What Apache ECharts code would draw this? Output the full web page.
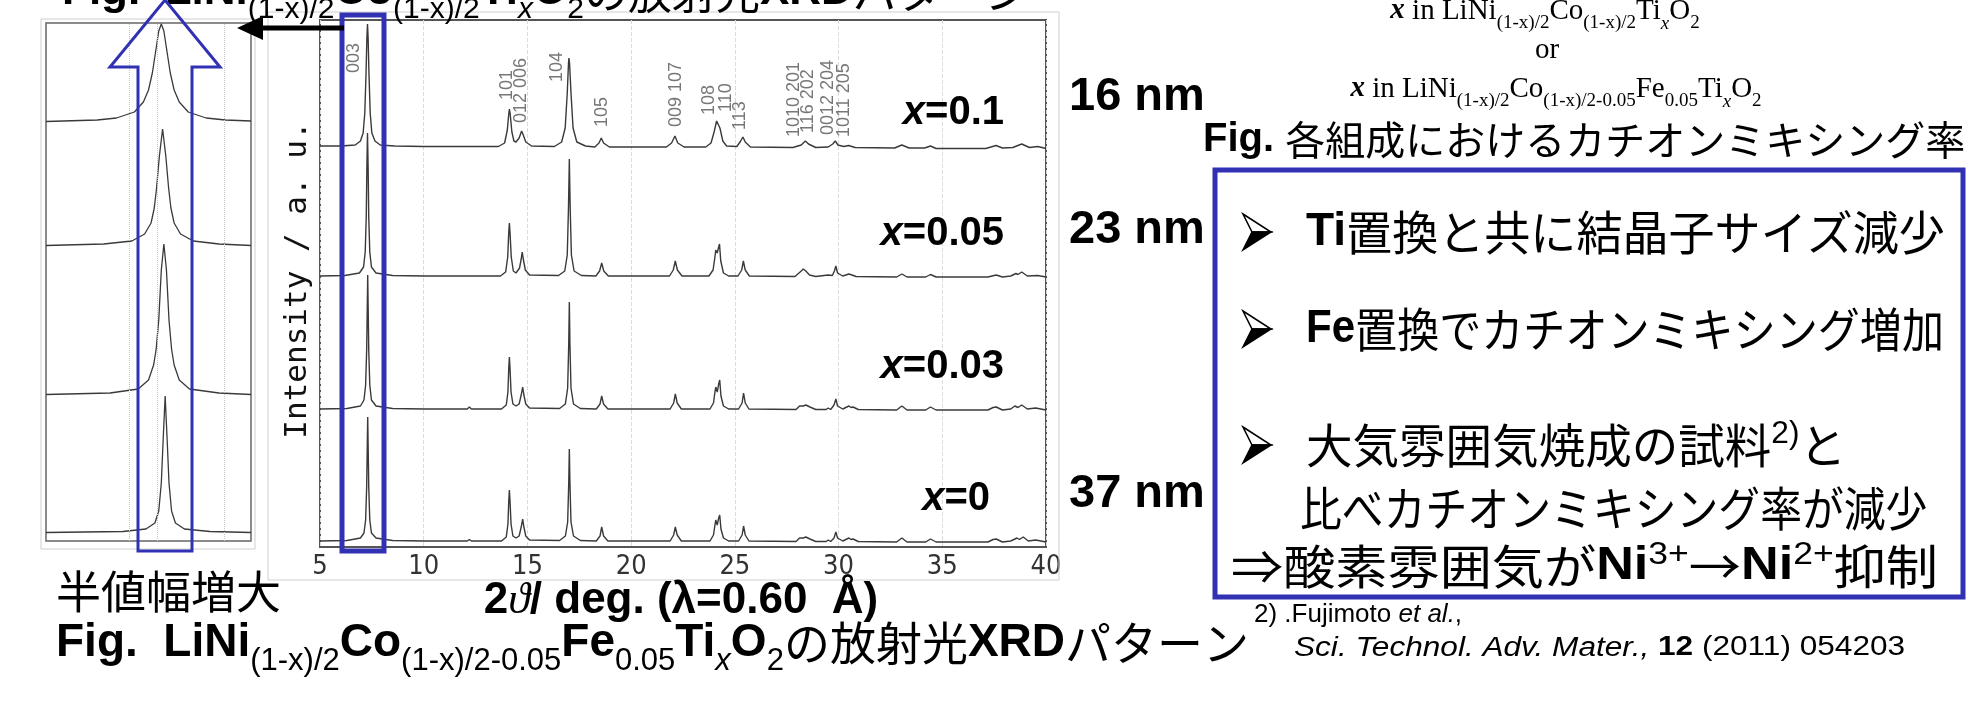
<!DOCTYPE html>
<html>
<head>
<meta charset="utf-8">
<title>LiNiCoFeTiO2 XRD</title>
<script src="https://cdn.jsdelivr.net/npm/echarts@6/dist/echarts.min.js"></script>
<style>
  html, body { margin: 0; padding: 0; background: #fff; }
  #chart { width: 1969px; height: 719px; }
</style>
</head>
<body>
<div id="chart"></div>
<script>
// 2theta / intensity pairs, intensity above each trace's own baseline
const xrd0 = [
  [5.0,1],[6.3,1.5],[6.95,4],[7.12,9],[7.2,22],[7.25,55],[7.28,98],[7.3,125],[7.32,98],[7.35,55],[7.4,22],[7.48,9],[7.7,4],[8.5,1.5],[10,1],[12.1,1],[12.2,2.5],[12.3,1],
  [13.75,1],[13.98,5],[14.06,18],[14.1,41],[14.13,52],[14.16,41],[14.21,18],[14.3,6],[14.45,4],[14.6,6],[14.7,15],[14.77,23],[14.83,15],[14.92,6],[15.1,2],
  [16.55,1.5],[16.83,6],[16.94,20],[16.99,58],[17.02,93],[17.05,58],[17.1,20],[17.22,6],[17.55,1.5],
  [18.32,1],[18.5,6],[18.58,15],[18.67,6],[18.88,1],
  [21.88,1],[22.05,7],[22.13,15],[22.22,7],[22.42,1],
  [23.8,1],[23.97,7],[24.04,17],[24.08,22],[24.15,17],[24.22,24],[24.27,27],[24.33,13],[24.45,4],[24.7,1],[25.18,1],[25.35,7],[25.42,16],[25.5,7],[25.68,1],
  [27.95,0.5],[28.12,4],[28.2,6],[28.3,4],[28.42,5],[28.5,7],[28.62,3],[28.9,0.5],[29.4,0.5],[29.5,2],[29.62,0.5],[29.78,4],[29.87,10],[29.95,4],[30.2,1],[30.5,4],[30.6,2.5],[30.7,3],[30.95,0.5],
  [32.8,0],[33.05,4],[33.3,0],[34.2,0],[34.43,3],[34.7,0],[37.2,0],[37.45,2.5],[37.6,3],[37.9,0],[38.3,1],[38.6,4],[38.72,2.5],[38.9,5],[39.15,1],[39.5,2],[40,0]
];
const xrd003 = [
  [5.0,1],[6.3,1.5],[6.95,4],[7.12,10],[7.2,25],[7.25,60],[7.28,105],[7.3,135],[7.32,105],[7.35,60],[7.4,25],[7.48,10],[7.7,4],[8.5,1.5],[10,1],[12.1,1],[12.2,3],[12.3,1],
  [13.75,1],[13.98,5],[14.06,18],[14.1,42],[14.13,53],[14.16,42],[14.21,18],[14.3,6],[14.45,4],[14.6,6],[14.7,15],[14.77,23],[14.83,15],[14.92,6],[15.1,2],
  [16.55,1.5],[16.83,6],[16.94,22],[16.99,65],[17.02,108],[17.05,65],[17.1,22],[17.22,6],[17.55,1.5],
  [18.32,1],[18.5,6],[18.58,14],[18.67,6],[18.88,1],
  [21.88,1],[22.05,7],[22.13,16],[22.22,7],[22.42,1],
  [23.8,1],[23.97,7],[24.04,18],[24.08,23],[24.15,18],[24.22,26],[24.27,30],[24.33,14],[24.45,4],[24.7,1],[25.18,1],[25.35,7],[25.42,17],[25.5,7],[25.68,1],
  [27.95,0.5],[28.12,4],[28.2,6],[28.3,4],[28.42,5],[28.5,7],[28.62,3],[28.9,0.5],[29.4,0.5],[29.5,2],[29.62,0.5],[29.78,5],[29.87,11],[29.95,4],[30.2,1],[30.5,4],[30.6,2.5],[30.7,3],[30.95,0.5],
  [32.8,0],[33.05,4],[33.3,0],[34.2,0],[34.43,3],[34.7,0],[37.2,0],[37.45,2.5],[37.6,3],[37.9,0],[38.3,1],[38.5,4],[38.65,2.5],[38.83,5],[39.1,1],[39.5,2],[40,0]
];
const xrd005 = [
  [5.0,1],[6.2,1.5],[6.9,4],[7.1,10],[7.18,25],[7.23,60],[7.26,110],[7.29,144],[7.32,110],[7.35,60],[7.4,25],[7.48,10],[7.7,4],[8.5,1.5],[10,1],[12,1],
  [13.7,1],[13.95,5],[14.05,20],[14.1,45],[14.13,54],[14.16,45],[14.22,20],[14.32,6],[14.45,4],[14.62,9],[14.7,18],[14.75,25],[14.8,18],[14.9,7],[15.1,2],
  [16.5,1.5],[16.8,6],[16.92,22],[16.98,70],[17.02,118],[17.06,70],[17.12,22],[17.25,6],[17.6,1.5],
  [18.3,1],[18.48,6],[18.58,14],[18.68,6],[18.9,1],
  [21.85,1],[22.03,7],[22.13,16],[22.23,7],[22.45,1],
  [23.75,1],[23.95,7],[24.04,20],[24.08,27],[24.15,24],[24.22,30],[24.26,33],[24.32,16],[24.45,4],[24.7,1],[25.15,1],[25.33,7],[25.41,16],[25.5,7],[25.7,1],
  [27.9,0.5],[28.2,6],[28.3,8],[28.42,6],[28.6,2],[28.9,0.5],[29.5,2],[29.7,1.5],[29.8,6],[29.87,11],[29.95,4],[30.2,1],[30.5,3],[30.85,0.5],
  [32.8,0],[33.05,3],[33.3,0],[34.2,0],[34.43,2.5],[34.7,0],[37.2,0],[37.6,2],[37.9,0],[38.3,1],[38.55,3.5],[38.65,2.5],[38.83,5],[39.1,1],[39.6,1.5],[40,0]
];
const xrd010 = [
  [5.0,2],[6.0,2],[6.7,3],[6.95,7],[7.08,15],[7.16,35],[7.22,75],[7.26,110],[7.29,124],[7.32,110],[7.36,75],[7.42,35],[7.5,15],[7.65,7],[7.9,3],[8.6,2],[10,1.5],[12,1.5],
  [13.6,1.5],[13.9,5],[14.03,18],[14.1,34],[14.13,39],[14.17,34],[14.25,16],[14.35,7],[14.45,6],[14.6,10],[14.72,17],[14.8,13],[14.92,6],[15.2,2],
  [16.3,1.5],[16.65,6],[16.82,20],[16.92,55],[16.98,85],[17.0,90],[17.03,85],[17.1,55],[17.2,20],[17.38,6],[17.8,2],
  [18.25,1],[18.45,5],[18.56,10],[18.67,5],[18.95,1],
  [21.7,1],[21.95,5],[22.11,12],[22.25,5],[22.55,1],
  [23.6,1],[23.85,5],[24.0,16],[24.12,27],[24.18,29],[24.28,20],[24.42,7],[24.6,2],[25.1,1.5],[25.28,7],[25.39,11],[25.5,6],[25.75,1],
  [27.8,0.5],[28.2,3],[28.4,7],[28.55,4],[28.9,0.5],[29.5,1],[29.72,4],[29.84,7],[29.97,3],[30.25,1.5],[30.48,2.5],[30.8,0.5],
  [32.7,0],[33.05,3],[33.4,0],[34.15,0],[34.43,2],[34.7,-0.5],[37.1,-0.5],[37.59,2.5],[37.9,0],[38.4,0.5],[38.83,4],[39.2,0.5],[39.6,1.5],[40,-0.5]
];
const mainTraces = [xrd0, xrd003, xrd005, xrd010];
const mainOffsets = [5, 137, 270, 399];

// zoomed 003 peak (inset), same order x=0, 0.03, 0.05, 0.1
const peak0 = [[6.4,0.5],[7.0,1.5],[7.18,4],[7.25,10],[7.28,22],[7.3,50],[7.315,95],[7.33,137],[7.345,95],[7.36,50],[7.38,22],[7.41,10],[7.48,4],[7.68,1.5],[8.0,0.5]];
const peak003 = [[6.4,0.5],[6.9,2],[7.12,6],[7.2,15],[7.24,30],[7.26,46],[7.28,75],[7.3,125],[7.32,151],[7.34,125],[7.36,75],[7.38,46],[7.4,30],[7.44,15],[7.52,6],[7.75,2],[8.0,0.5]];
const peak005 = [[6.4,0.5],[6.85,2],[7.07,5],[7.17,12],[7.22,23],[7.245,38],[7.263,58],[7.285,90],[7.31,117],[7.335,90],[7.357,58],[7.375,38],[7.4,23],[7.45,12],[7.55,5],[7.75,2],[8.0,0.5]];
const peak010 = [[6.4,0.5],[6.8,2],[6.95,4],[7.09,10],[7.16,20],[7.2,32],[7.23,49],[7.26,74],[7.28,91],[7.3,98],[7.32,91],[7.34,74],[7.37,49],[7.4,32],[7.44,20],[7.51,10],[7.65,4],[7.8,2],[8.0,1]];
const insetTraces = [peak0, peak003, peak005, peak010];
const insetOffsets = [8, 146, 295, 419];
const insetGridLines = [7.05, 7.27, 7.79];

// Miller index labels
const hklNames = ['003', '101', '012 006', '104', '105', '009 107', '108', '110', '113', '1010 201', '116 202', '0012 204', '1011 205'];
const hklTheta = [6.64, 14.02, 14.69, 16.43, 18.6, 22.17, 23.76, 24.58, 25.25, 27.85, 28.53, 29.49, 30.27];
const hklLevel = [474, 447, 424, 465, 420, 420, 432, 435, 417, 410, 414, 412, 410];

const sampleLabels = ['0', '0.03', '0.05', '0.1'];
const sampleLabelY = [499, 367, 234, 113];
const sampleLabelRight = [990, 1004, 1004, 1004];
const crystalSizes = ['37 nm', '23 nm', '16 nm'];
const crystalSizeY = [494, 230, 97];

const SANS = '"Liberation Sans", Arial, sans-serif';
const NARROW = '"Liberation Sans Narrow", "DejaVu Sans Condensed", sans-serif';
const SERIF = '"Liberation Serif", "Times New Roman", serif';
const JP = '"Noto Sans CJK JP", sans-serif';
const BLUE = '#3131b3';

const chart = echarts.init(document.getElementById('chart'));

function capRich(sz) {
  const sub = Math.round(sz * 0.68);
  const drop = Math.round(sz * 0.36);
  return {
    b: { fontFamily: SANS, fontWeight: 'bold', fontSize: sz, lineHeight: sz + 8 },
    n: { fontFamily: SANS, fontSize: sz, lineHeight: sz + 8 },
    j: { fontFamily: JP, fontSize: sz, lineHeight: sz + 8 },
    s: { fontFamily: SANS, fontSize: sub, height: drop, verticalAlign: 'bottom' },
    si: { fontFamily: SANS, fontStyle: 'italic', fontSize: sub, height: drop, verticalAlign: 'bottom' },
    up: { fontFamily: SANS, fontSize: sub, height: Math.round(sz * 0.7), verticalAlign: 'top' }
  };
}

function serifRich(sz) {
  const sub = Math.round(sz * 0.66);
  return {
    i: { fontFamily: SERIF, fontStyle: 'italic', fontWeight: 'bold', fontSize: sz, lineHeight: sz + 6 },
    r: { fontFamily: SERIF, fontSize: sz, lineHeight: sz + 6 },
    s: { fontFamily: SERIF, fontSize: sub, height: Math.round(sz * 0.36), verticalAlign: 'bottom' },
    si: { fontFamily: SERIF, fontStyle: 'italic', fontSize: sub, height: Math.round(sz * 0.36), verticalAlign: 'bottom' }
  };
}

function label(x, y, str, rich, align, extra) {
  return Object.assign({
    type: 'text', x: x, y: y, z: 10, silent: true,
    style: { text: str, rich: rich, fill: '#000', align: align || 'left', verticalAlign: 'middle' }
  }, extra || {});
}

// Wingdings-like arrowhead bullet: outlined upper half, filled lower half
function bullet(x0, yc) {
  return [
    { type: 'polygon', z: 10, silent: true, shape: { points: [[x0, yc - 18], [x0 + 28, yc], [x0 + 9, yc]] }, style: { fill: '#fff', stroke: '#000', lineWidth: 1.5 } },
    { type: 'polygon', z: 10, silent: true, shape: { points: [[x0 + 9, yc], [x0 + 28, yc], [x0, yc + 18]] }, style: { fill: '#000', stroke: '#000', lineWidth: 1.5 } }
  ];
}

const graphics = [
  // outer light frames around the two plots
  { type: 'rect', z: 1, silent: true, shape: { x: 268, y: 12, width: 791, height: 568 }, style: { fill: 'none', stroke: '#cfcfcf', lineWidth: 1 } },
  { type: 'rect', z: 1, silent: true, shape: { x: 41, y: 19, width: 214, height: 530 }, style: { fill: 'none', stroke: '#cfcfcf', lineWidth: 1 } },

  // cut-off title at the very top
  label(62, -8, '{b|Fig.  LiNi}{s|(1-x)/2}{b|Co}{s|(1-x)/2}{b|Ti}{si|x}{b|O}{s|2}{j|の放射光}{b|XRD}{j|パターン}', capRich(44)),
  // caption below
  label(56, 643, '{b|Fig.  LiNi}{s|(1-x)/2}{b|Co}{s|(1-x)/2-0.05}{b|Fe}{s|0.05}{b|Ti}{si|x}{b|O}{s|2}{j|の放射光}{b|XRD}{j|パターン}', capRich(46)),
  label(56, 592, '{j|半値幅増大}', capRich(45)),
  label(681, 601, '{b|2}{t|ϑ}{b|/ deg. (λ=0.60  Å)}', Object.assign(capRich(44), {
    t: { fontFamily: SERIF, fontStyle: 'italic', fontSize: 44, lineHeight: 52 }
  }), 'center'),
  label(298, 280, '', {}, 'center', {
    rotation: Math.PI / 2,
    style: { text: 'Intensity / a. u.', fill: '#111', align: 'center', verticalAlign: 'middle', fontFamily: '"DejaVu Sans Mono", monospace', fontSize: 31 }
  }),

  // formula lines, top right
  label(1545, 11, '{i|x}{r| in LiNi}{s|(1-x)/2}{r|Co}{s|(1-x)/2}{r|Ti}{si|x}{r|O}{s|2}', serifRich(29), 'center'),
  label(1547, 50, '{r|or}', serifRich(29), 'center'),
  label(1556, 89, '{i|x}{r| in LiNi}{s|(1-x)/2}{r|Co}{s|(1-x)/2-0.05}{r|Fe}{s|0.05}{r|Ti}{si|x}{r|O}{s|2}', serifRich(29), 'center'),
  label(1203, 140, '{b|Fig. }{j|各組成におけるカチオンミキシング率}', capRich(40)),

  // summary box
  { type: 'rect', z: 5, silent: true, shape: { x: 1215, y: 170, width: 748, height: 427 }, style: { fill: 'none', stroke: BLUE, lineWidth: 5 } },
  label(1306, 232, '{b|Ti}{j|置換と共に結晶子サイズ減少}', capRich(47), 'left', { scaleX: 0.98 }),
  label(1306, 329, '{b|Fe}{j|置換でカチオンミキシング増加}', capRich(47), 'left', { scaleX: 0.895 }),
  label(1306, 445, '{j|大気雰囲気焼成の試料}{up|2)}{j|と}', capRich(47), 'left', { scaleX: 0.99 }),
  label(1300, 508, '{j|比べカチオンミキシング率が減少}', capRich(47), 'left', { scaleX: 0.89 }),
  label(1231, 566, '{j|⇒酸素雰囲気が}{b|Ni}{up|3+}{j|→}{b|Ni}{up|2+}{j|抑制}', capRich(47), 'left', { scaleX: 1.11 }),

  // reference
  label(1254, 615, '{n|2) .Fujimoto }{it|et al.}{n|,}', {
    n: { fontFamily: SANS, fontSize: 26 }, it: { fontFamily: SANS, fontStyle: 'italic', fontSize: 26 }
  }),
  label(1294, 648, '{it|Sci. Technol. Adv. Mater., }{bd|12}{n| (2011) 054203}', {
    n: { fontFamily: SANS, fontSize: 27 }, it: { fontFamily: SANS, fontStyle: 'italic', fontSize: 27 },
    bd: { fontFamily: SANS, fontWeight: 'bold', fontSize: 27 }
  }, 'left', { scaleX: 1.17 }),

  // blue box around 003 and the arrows
  { type: 'rect', z: 20, silent: true, shape: { x: 342, y: 15, width: 42, height: 536 }, style: { fill: 'none', stroke: BLUE, lineWidth: 5 } },
  { type: 'line', z: 20, silent: true, shape: { x1: 344, y1: 28, x2: 258, y2: 28 }, style: { stroke: '#000', lineWidth: 5 } },
  { type: 'polygon', z: 20, silent: true, shape: { points: [[237, 28], [263, 16], [263, 40]] }, style: { fill: '#000' } },
  { type: 'polygon', z: 20, silent: true,
    shape: { points: [[165, 0], [220, 67], [192, 67], [192, 551], [138, 551], [138, 67], [110, 67]] },
    style: { fill: 'none', stroke: BLUE, lineWidth: 3 } }
].concat(bullet(1243, 232), bullet(1243, 329), bullet(1243, 445));

// sample composition labels and crystallite sizes
sampleLabels.forEach((s, i) => {
  graphics.push(label(sampleLabelRight[i], sampleLabelY[i], '{xi|x}{n|=' + s + '}', {
    xi: { fontFamily: SANS, fontStyle: 'italic', fontWeight: 'bold', fontSize: 40, lineHeight: 46 },
    n: { fontFamily: SANS, fontWeight: 'bold', fontSize: 40, lineHeight: 46 }
  }, 'right'));
});
crystalSizes.forEach((s, i) => {
  graphics.push(label(1069, crystalSizeY[i], '{b|' + s + '}', capRich(47)));
});

const series = [];
mainTraces.forEach((tr, i) => {
  series.push({
    type: 'line', xAxisIndex: 0, yAxisIndex: 0, silent: true, animation: false,
    symbol: 'none', z: 3,
    lineStyle: { color: '#3a3a3a', width: 1.4 },
    data: tr.map(p => [p[0], p[1] + mainOffsets[i]])
  });
});
series.push({
  type: 'scatter', xAxisIndex: 0, yAxisIndex: 0, silent: true, animation: false,
  symbolSize: 0, z: 4,
  data: hklNames.map((n, i) => ({ name: n, value: [hklTheta[i], hklLevel[i]] })),
  label: {
    show: true, formatter: '{b}', position: [0, 0], rotate: 90, align: 'left', verticalAlign: 'middle',
    fontFamily: SANS, fontSize: 18, color: '#555'
  }
});
insetTraces.forEach((tr, i) => {
  const s = {
    type: 'line', xAxisIndex: 1, yAxisIndex: 1, silent: true, animation: false,
    symbol: 'none', z: 3,
    lineStyle: { color: '#3a3a3a', width: 1.3 },
    data: tr.map(p => [p[0], p[1] + insetOffsets[i]])
  };
  if (i === 0) {
    s.markLine = {
      silent: true, symbol: 'none', animation: false, label: { show: false },
      lineStyle: { color: '#c4c4c4', type: 'dotted', width: 1 },
      data: insetGridLines.map(v => ({ xAxis: v }))
    };
  }
  series.push(s);
});

chart.setOption({
  backgroundColor: '#fff',
  animation: false,
  grid: [
    { left: 320, top: 20, width: 726, height: 527, show: true, borderColor: '#555', borderWidth: 2, outerBoundsMode: 'none', containLabel: false },
    { left: 46, top: 23, width: 205, height: 518, show: true, borderColor: '#666', borderWidth: 1.5, outerBoundsMode: 'none', containLabel: false }
  ],
  xAxis: [
    {
      gridIndex: 0, type: 'value', min: 5, max: 40, interval: 5,
      axisLine: { show: false }, axisTick: { show: false },
      axisLabel: { fontFamily: NARROW, fontSize: 27, color: '#333', margin: 6, showMinLabel: true, showMaxLabel: true },
      splitLine: { show: true, lineStyle: { color: '#dadada', type: 'dashed', width: 1 } }
    },
    {
      gridIndex: 1, type: 'value', min: 6.4, max: 8.0,
      axisLine: { show: false }, axisTick: { show: false }, axisLabel: { show: false }, splitLine: { show: false }
    }
  ],
  yAxis: [
    { gridIndex: 0, type: 'value', min: 0, max: 527, show: false },
    { gridIndex: 1, type: 'value', min: 0, max: 518, show: false }
  ],
  graphic: { elements: graphics },
  series: series
});
</script>
</body>
</html>
